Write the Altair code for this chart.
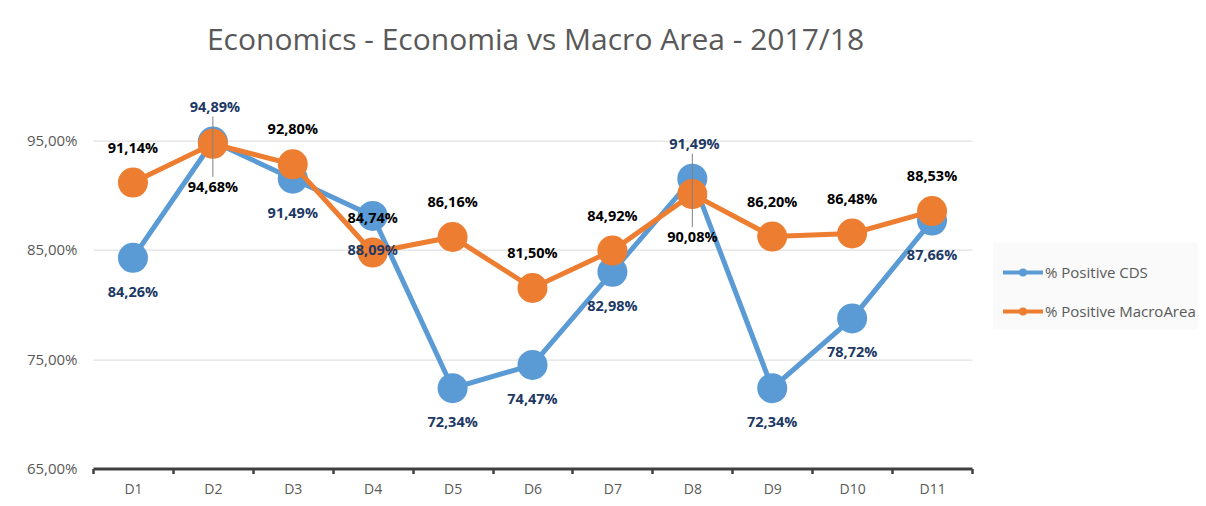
import altair as alt
import pandas as pd

categories = ["D1", "D2", "D3", "D4", "D5", "D6", "D7", "D8", "D9", "D10", "D11"]
cds = [84.26, 94.89, 91.49, 88.09, 72.34, 74.47, 82.98, 91.49, 72.34, 78.72, 87.66]
macro = [91.14, 94.68, 92.80, 84.74, 86.16, 81.50, 84.92, 90.08, 86.20, 86.48, 88.53]
series_names = ["% Positive CDS", "% Positive MacroArea"]
y_ticks = [65, 75, 85, 95]
flipped = ["D2", "D8"]  # categories where CDS label sits above and MacroArea label below

COLORS = ["#5B9BD5", "#ED7D31"]


def fmt(v):
    return f"{v:.2f}".replace(".", ",") + "%"


rows = []
for c, a, b in zip(categories, cds, macro):
    rows.append({"cat": c, "series": series_names[0], "value": a, "label": fmt(a), "flip": c in flipped})
    rows.append({"cat": c, "series": series_names[1], "value": b, "label": fmt(b), "flip": c in flipped})
df = pd.DataFrame(rows)
wide = pd.DataFrame({"cat": categories, "cds": cds, "macro": macro,
                     "flip": [c in flipped for c in categories]})

x = alt.X("cat:N", sort=categories,
          scale=alt.Scale(type="band", paddingInner=0, paddingOuter=0),
          axis=alt.Axis(title=None, labelAngle=0, domainColor="#404040", domainWidth=3,
                        tickColor="#404040", tickWidth=2.5, tickSize=5, tickBand="extent",
                        labelFont="Open Sans", labelFontSize=14, labelColor="#595959",
                        labelPadding=9, grid=False))
y = alt.Y("value:Q",
          scale=alt.Scale(domain=[65, 100], nice=False, zero=False),
          axis=alt.Axis(title=None, values=y_ticks,
                        labelExpr="replace(format(datum.value, '.2f'), '.', ',') + '%'",
                        grid=True, gridColor="#d9d9d9", gridWidth=1, domain=False, ticks=False,
                        labelPadding=16, labelFont="Open Sans", labelFontSize=15,
                        labelColor="#595959"))

legend_path = "M-1,0H1M0.1,0A0.1,0.1 0 1,1 -0.1,0A0.1,0.1 0 1,1 0.1,0Z"
color = alt.Color("series:N",
                  scale=alt.Scale(domain=series_names, range=COLORS),
                  legend=alt.Legend(title=None, orient="none", legendX=900, legendY=157,
                                    symbolType=legend_path, symbolSize=1600,
                                    symbolStrokeWidth=4, labelFont="Open Sans",
                                    labelFontSize=15, labelColor="#595959",
                                    labelOffset=0, rowPadding=7, padding=8,
                                    fillColor="#fafafa"))

base = alt.Chart(df)


def series_layers(name):
    d = base.transform_filter(alt.datum.series == name)
    line = d.mark_line(strokeWidth=5).encode(x=x, y=y, color=color)
    pts = d.mark_circle(size=900, opacity=1).encode(x=x, y=y, color=color)
    return [line, pts]


leaders = alt.Chart(wide).transform_filter(alt.datum.flip).mark_rule(
    color="#808080", strokeWidth=1, yOffset=-25, y2Offset=33
).encode(x=x, y=alt.Y("cds:Q"), y2=alt.Y2("macro:Q"))

txt = dict(font="Open Sans", fontSize=14.5, fontWeight="bold")
cds_below = base.transform_filter((alt.datum.series == series_names[0]) & (~alt.datum.flip)).mark_text(
    dy=35, color="#203864", **txt).encode(x=x, y=y, text="label:N")
cds_above = base.transform_filter((alt.datum.series == series_names[0]) & (alt.datum.flip)).mark_text(
    dy=-34, dx=2, color="#203864", **txt).encode(x=x, y=y, text="label:N")
mac_above = base.transform_filter((alt.datum.series == series_names[1]) & (~alt.datum.flip)).mark_text(
    dy=-34, color="#000000", **txt).encode(x=x, y=y, text="label:N")
mac_below = base.transform_filter((alt.datum.series == series_names[1]) & (alt.datum.flip)).mark_text(
    dy=44, color="#000000", **txt).encode(x=x, y=y, text="label:N")

chart = alt.layer(
    *series_layers(series_names[0]),
    *series_layers(series_names[1]),
    leaders, cds_below, cds_above, mac_above, mac_below,
).properties(
    width=879, height=382.9,
    title=alt.TitleParams("Economics - Economia vs Macro Area - 2017/18", font="Open Sans",
                          fontSize=30, fontWeight="normal", color="#595959",
                          anchor="middle", offset=30, dx=3),
    autosize=alt.AutoSizeParams(type="none"),
    padding={"left": 85, "top": 77.6, "right": 226, "bottom": 30},
).configure_view(stroke=None)

chart.save("out.html", embed_options={"renderer": "svg", "actions": False})
